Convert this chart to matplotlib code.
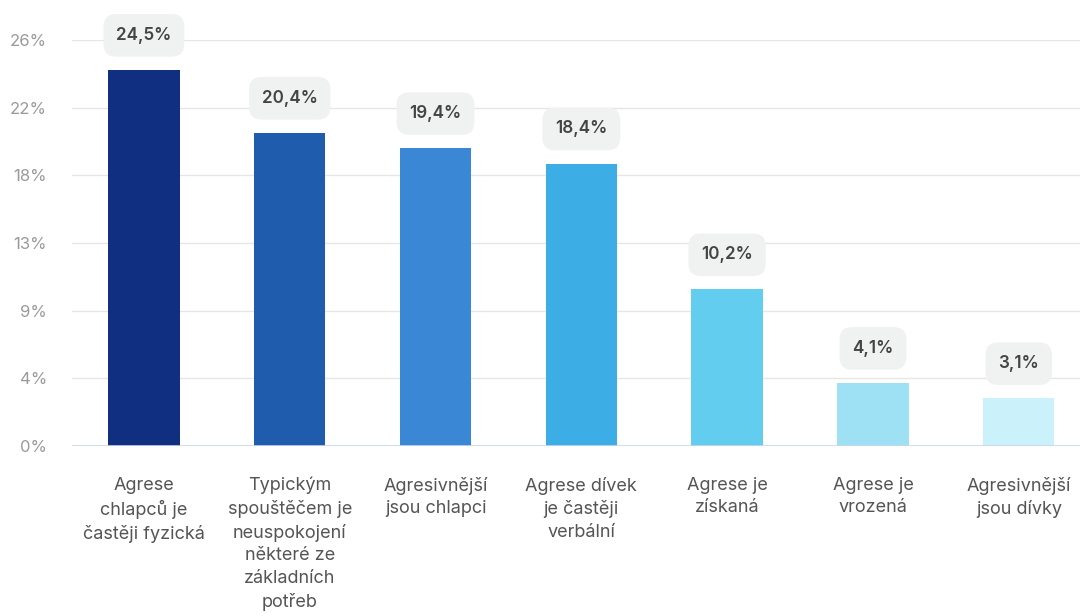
import numpy as np
import matplotlib
matplotlib.use("Agg")
import matplotlib.pyplot as plt

# data
categories = [
    "Agrese\nchlapců je\nčastěji fyzická",
    "Typickým\nspouštěčem je\nneuspokojení\nněkteré ze\nzákladních\npotřeb",
    "Agresivnější\njsou chlapci",
    "Agrese dívek\nje častěji\nverbální",
    "Agrese je\nzískaná",
    "Agrese je\nvrozená",
    "Agresivnější\njsou dívky",
]
values = [24.5, 20.4, 19.4, 18.4, 10.2, 4.1, 3.1]
colors = ["#112f80", "#1f5cae", "#3a88d5", "#3daee5", "#62cdef", "#9ee1f4", "#cbf1fa"]
tick_step = 4.41
n_ticks = 7

plt.rcParams['font.family'] = ['Inter', 'DejaVu Sans']

fig = plt.figure(figsize=(10.8, 6.16), dpi=100)
ax = fig.add_axes([72 / 1080, 1 - 446 / 616, 1 - 72 / 1080, (446 - 40) / 616])

x = np.arange(len(values))
ax.bar(x, values, width=0.49, color=colors, zorder=3)

ticks = [i * tick_step for i in range(n_ticks)]
ax.set_yticks(ticks)
ax.set_yticklabels([f"{round(t)}%" for t in ticks], color="#9a9a9a", fontsize=12)
ax.set_ylim(0, ticks[-1])
ax.set_xlim(-0.493, 6.42)

for t in ticks[1:]:
    ax.axhline(t, color="#e6e6e6", lw=1, zorder=1)
ax.axhline(0, color="#c9d5ef", lw=1.2, zorder=4)

ax.set_xticks(x)
ax.set_xticklabels(categories, color="#555555", fontsize=13, linespacing=1.42, va="top")
ax.tick_params(axis="x", length=0, pad=22)
ax.tick_params(axis="y", length=0, pad=18)
for s in ax.spines.values():
    s.set_visible(False)

for xi, v in zip(x, values):
    ax.annotate(f"{v:.1f}%".replace(".", ","), (xi, v), xytext=(0, 25), textcoords="offset points",
                ha="center", va="center", fontsize=12.3, fontweight="semibold", color="#444444",
                annotation_clip=False, zorder=5,
                bbox=dict(boxstyle="round,pad=0.75,rounding_size=0.75", fc="#f0f1f1", ec="none"))

fig.savefig("out.png", dpi=100)
